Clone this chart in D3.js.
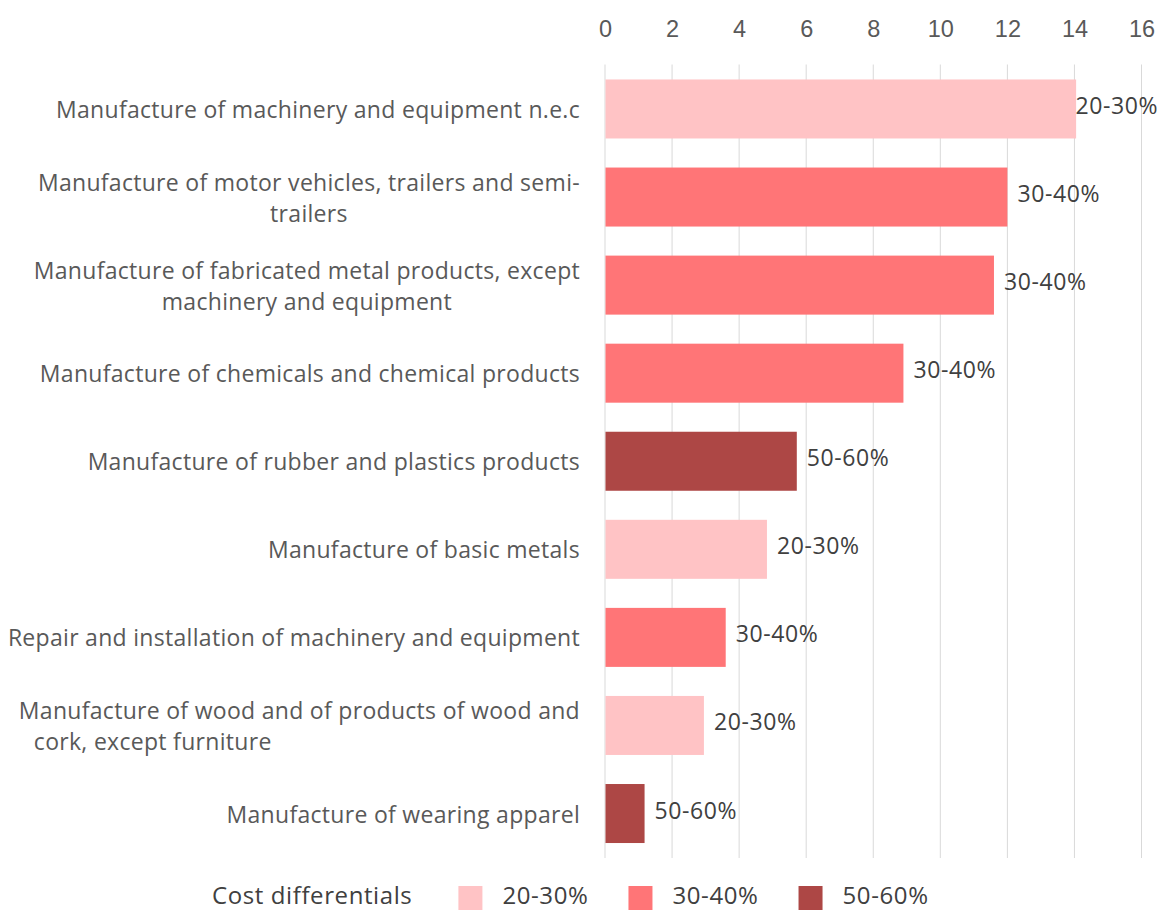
<!DOCTYPE html>
<html>
<head>
<meta charset="utf-8">
<script src="https://cdn.jsdelivr.net/npm/d3@7"></script>
<style>
  html, body { margin: 0; padding: 0; background: #fff; }
  svg { display: block; font-family: "Open Sans", "Noto Sans", sans-serif; }
  .tick-text { fill: #595959; font-size: 23.5px; }
  .cat-label { fill: #595959; font-size: 23px; letter-spacing: 0.3px; }
  .val-label { fill: #404040; font-size: 23px; letter-spacing: 0.6px; }
  .legend-text { fill: #404040; font-size: 24px; letter-spacing: 0.6px; }
  .grid-line { stroke: #d9d9d9; stroke-width: 1; }
</style>
</head>
<body>
<svg id="chart" width="1160" height="911"></svg>
<script>
// ── DATA ────────────────────────────────────────────────────────────────
const categories = [
  ['Manufacture of machinery and equipment n.e.c'],
  ['Manufacture of motor vehicles, trailers and semi-', 'trailers'],
  ['Manufacture of fabricated metal products, except', 'machinery and equipment'],
  ['Manufacture of chemicals and chemical products'],
  ['Manufacture of rubber and plastics products'],
  ['Manufacture of basic metals'],
  ['Repair and installation of machinery and equipment'],
  ['Manufacture of wood and of products of wood and', 'cork, except furniture'],
  ['Manufacture of wearing apparel'],
];
const values = [14.05, 12.0, 11.6, 8.9, 5.72, 4.83, 3.6, 2.95, 1.18];
const groups = ['20-30%', '30-40%', '30-40%', '30-40%', '50-60%', '20-30%', '30-40%', '20-30%', '50-60%'];
const groupKeys = ['20-30%', '30-40%', '50-60%'];
const groupColors = ['#FFC3C5', '#FF7577', '#AD4745'];
const xTicks = [0, 2, 4, 6, 8, 10, 12, 14, 16];
const legendTitle = 'Cost differentials';

// ── SETUP ───────────────────────────────────────────────────────────────
const W = 1160, H = 911;
const svg = d3.select('#chart').attr('viewBox', `0 0 ${W} ${H}`);

const x = d3.scaleLinear().domain([0, 16]).range([605, 1141.5]);
const y = d3.scaleBand().domain(d3.range(categories.length))
  .range([64.5, 858]).paddingInner(0.33).paddingOuter(0.17);
const color = d3.scaleOrdinal().domain(groupKeys).range(groupColors);

// grid
svg.append('g')
  .selectAll('line')
  .data(xTicks)
  .join('line').attr('class', 'grid-line')
  .attr('x1', d => x(d)).attr('x2', d => x(d))
  .attr('y1', 64.5).attr('y2', 858)
  .attr('stroke', d => d === 0 ? '#cfcfcf' : null);

// top axis
const xAxis = svg.append('g')
  .attr('transform', 'translate(0,40)')
  .call(d3.axisTop(x).tickValues(xTicks).tickSize(0).tickPadding(3));
xAxis.select('.domain').remove();
xAxis.selectAll('text').attr('class', 'tick-text').attr('font-family', null).attr('font-size', null);

// bars
svg.append('g')
  .selectAll('rect')
  .data(values)
  .join('rect')
  .attr('x', x(0) + 0.5)
  .attr('y', (d, i) => y(i))
  .attr('width', d => x(d) - x(0) - 0.5)
  .attr('height', y.bandwidth())
  .attr('fill', (d, i) => color(groups[i]));

// value labels (kept inside the svg on the right)
svg.append('g')
  .selectAll('text')
  .data(values)
  .join('text').attr('class', 'val-label')
  .attr('y', (d, i) => y(i) + y.bandwidth() / 2 - 4)
  .attr('dominant-baseline', 'central')
  .text((d, i) => groups[i])
  .attr('x', function (d) {
    const w = this.getComputedTextLength();
    return Math.min(x(d) + 10, W - w - 2);
  });

// category labels
const lineH = 31;
const catG = svg.append('g');
categories.forEach((lines, i) => {
  const cy = y(i) + y.bandwidth() / 2;
  const right = x(0) - 25;
  const first = catG.append('text').attr('class', 'cat-label')
    .attr('x', right)
    .attr('y', cy - (lines.length - 1) * lineH / 2)
    .attr('text-anchor', 'end')
    .attr('dominant-baseline', 'central')
    .text(lines[0]);
  if (lines.length > 1) {
    const w = first.node().getComputedTextLength();
    const left = right - w;
    const indent = i === 7; // this one is wrapped flush-left in the original
    catG.append('text').attr('class', 'cat-label')
      .attr('x', indent ? left + 15 : left + w / 2)
      .attr('y', cy + lineH / 2)
      .attr('text-anchor', indent ? 'start' : 'middle')
      .attr('dominant-baseline', 'central')
      .text(lines[1]);
  }
});

// legend
const leg = svg.append('g').attr('transform', 'translate(212,904)');
const title = leg.append('text').attr('class', 'legend-text').text(legendTitle);
let lx = title.node().getComputedTextLength() + 46;
groupKeys.forEach(k => {
  leg.append('rect').attr('x', lx).attr('y', -18).attr('width', 24).attr('height', 24)
    .attr('fill', color(k));
  const t = leg.append('text').attr('class', 'legend-text')
    .attr('x', lx + 44).text(k);
  lx += 44 + t.node().getComputedTextLength() + 40;
});
</script>
</body>
</html>
